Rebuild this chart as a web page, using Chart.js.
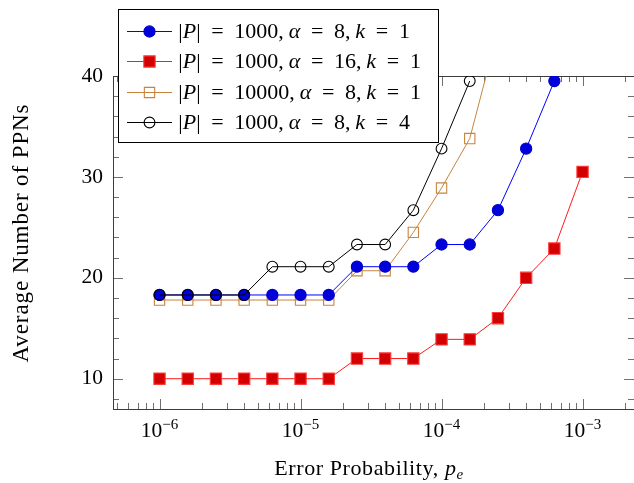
<!DOCTYPE html>
<html><head><meta charset="utf-8">
<script src="https://cdn.jsdelivr.net/npm/chart.js@4/dist/chart.umd.min.js"></script>
<style>html,body{margin:0;padding:0;background:#fff}#wrap{width:634px;height:483px;position:relative}</style>
</head><body><div id="wrap"><canvas id="c"></canvas></div>
<script>
// ---- data ----
const errorProb = [1e-6, 1.585e-6, 2.512e-6, 3.981e-6, 6.310e-6, 1e-5, 1.585e-5, 2.512e-5,
                   3.981e-5, 6.310e-5, 1e-4, 1.585e-4, 2.512e-4, 3.981e-4, 6.310e-4, 1e-3];
const ppnP1000a8k1  = [18.3, 18.3, 18.3, 18.3, 18.3, 18.3, 18.3, 21.1, 21.1, 21.1, 23.3, 23.3, 26.7, 32.8, 39.5];
const ppnP1000a16k1 = [10, 10, 10, 10, 10, 10, 10, 12, 12, 12, 13.9, 13.9, 16, 20, 22.9, 30.5];
const ppnP10000a8k1 = [17.8, 17.8, 17.8, 17.8, 17.8, 17.8, 17.8, 20.7, 20.7, 24.5, 28.9, 33.8, 44.5];
const ppnP1000a8k4  = [18.3, 18.3, 18.3, 18.3, 21.1, 21.1, 21.1, 23.3, 23.3, 26.7, 32.8, 39.5];
const poolSizes = [1000, 1000, 10000, 1000];
const alphas    = [8, 16, 8, 8];
const ks        = [1, 1, 1, 4];
const xTickExponents = [-6, -5, -4, -3];
const yTickValues = [10, 20, 30, 40];
const xAxisTitle = 'Error Probability, ';
const yAxisTitle = 'Average Number of PPNs';

const SERIF = "'Liberation Serif','Times New Roman',serif";
const fnt = (s, it) => (it ? 'italic ' : '') + s + 'px ' + SERIF;
const FS = 21.5, FSS = 15, FL = 22;

function pts(ys){ return ys.map((y,i)=>({x: errorProb[i], y})); }

function drawParts(ctx, parts, x, y, align){
  let w = 0;
  for (const p of parts){ ctx.font = fnt(p.s||FS, p.i); p.w = p.t ? ctx.measureText(p.t).width : 0; w += (p.g||0) + p.w; }
  let cx = align === 'center' ? x - w/2 : (align === 'right' ? x - w : x);
  for (const p of parts){ cx += p.g||0; if (p.t){ ctx.font = fnt(p.s||FS, p.i); ctx.fillText(p.t, cx, y + (p.dy||0)); } cx += p.w; }
  return w;
}
const TH = 10.7, TN = 4.8;
function legendParts(i){
  return [
    {t:'|',s:FL},{t:'P',i:true,s:FL},{t:'|',s:FL},{t:'=',g:TH,s:FL},{t:String(poolSizes[i]),g:TH,s:FL},{t:',',s:FL},
    {t:'α',i:true,g:TN,s:FL},{t:'=',g:TH,s:FL},{t:String(alphas[i]),g:TH,s:FL},{t:',',s:FL},
    {t:'k',i:true,g:TN,s:FL},{t:'=',g:TH,s:FL},{t:String(ks[i]),g:TH,s:FL}
  ];
}

const datasets = [
  {label:`|P| = ${poolSizes[0]}, α = ${alphas[0]}, k = ${ks[0]}`, data: pts(ppnP1000a8k1),
   borderColor:'#0000ff', pointBackgroundColor:'#0000dd', pointBorderColor:'#0000c8',
   pointStyle:'circle', pointRadius:5.6, order:1},
  {label:`|P| = ${poolSizes[1]}, α = ${alphas[1]}, k = ${ks[1]}`, data: pts(ppnP1000a16k1),
   borderColor:'#ff1a1a', pointBackgroundColor:'#d20000', pointBorderColor:'#ff3a3a',
   pointStyle:'rect', pointRadius:8, order:2},
  {label:`|P| = ${poolSizes[2]}, α = ${alphas[2]}, k = ${ks[2]}`, data: pts(ppnP10000a8k1),
   borderColor:'#c8843f', pointBackgroundColor:'rgba(0,0,0,0)', pointBorderColor:'#c8843f',
   pointStyle:'rect', pointRadius:7.3, order:3},
  {label:`|P| = ${poolSizes[3]}, α = ${alphas[3]}, k = ${ks[3]}`, data: pts(ppnP1000a8k4),
   borderColor:'#000000', pointBackgroundColor:'rgba(0,0,0,0)', pointBorderColor:'#000000',
   pointStyle:'circle', pointRadius:5.4, order:0}
];
datasets.forEach(d => { d.borderWidth = 1; d.pointBorderWidth = 1.1; d.tension = 0; d.fill = false;
  d.clip = {left: 10, right: 10, top: 0, bottom: 10}; d.pointHoverRadius = d.pointRadius; });

const decor = {
  id: 'decor',
  beforeDatasetsDraw(chart){
    const {ctx, chartArea:a, scales:{x, y}} = chart;
    ctx.save();
    ctx.strokeStyle = '#707070'; ctx.lineWidth = 1;
    ctx.beginPath();
    for (let k = -7; k <= -2; k++){
      for (let m = 1; m <= 9; m++){
        const v = m * Math.pow(10, k);
        if (v < x.min || v > x.max) continue;
        const px = Math.round(x.getPixelForValue(v)) + 0.5;
        const len = m === 1 ? 10 : 6;
        ctx.moveTo(px, a.bottom); ctx.lineTo(px, a.bottom - len);
        ctx.moveTo(px, a.top); ctx.lineTo(px, a.top + len);
      }
    }
    for (let v = 8; v <= 40; v += 2){
      const py = Math.round(y.getPixelForValue(v)) + 0.5;
      const len = v % 10 === 0 ? 10 : 6;
      ctx.moveTo(a.left, py); ctx.lineTo(a.left + len, py);
      ctx.moveTo(a.right, py); ctx.lineTo(a.right - len, py);
    }
    ctx.stroke();
    ctx.strokeStyle = '#3c3c3c';
    ctx.strokeRect(Math.round(a.left) + 0.5, Math.round(a.top) + 0.5, Math.round(a.right - a.left), Math.round(a.bottom - a.top));
    ctx.restore();
  },
  afterDraw(chart){
    const {ctx, chartArea:a, scales:{x}} = chart;
    ctx.save();
    ctx.fillStyle = '#000'; ctx.textAlign = 'left'; ctx.textBaseline = 'alphabetic';
    // x tick labels
    for (const e of xTickExponents){
      const px = x.getPixelForValue(Math.pow(10, e));
      drawParts(ctx, [{t:'10'}, {t:'\u2212' + Math.abs(e), s:FSS, dy:-8.5}], px, 437, 'center');
    }
    // x title
    ctx.letterSpacing = '0.6px';
    drawParts(ctx, [{t:xAxisTitle, s:22}, {t:'p', i:true, s:22}, {t:'e', i:true, s:FSS, dy:3.5}], 369, 475, 'center');
    // y title
    ctx.letterSpacing = '0.9px';
    ctx.save(); ctx.translate(28, 233); ctx.rotate(-Math.PI/2);
    drawParts(ctx, [{t:yAxisTitle, s:23}], 0, 0, 'center');
    ctx.restore();
    ctx.letterSpacing = '0px';
    // legend
    const lx = 118.5, ly = 9.5, lw = 320, lh = 133;
    ctx.fillStyle = '#fff'; ctx.fillRect(lx, ly, lw, lh);
    ctx.strokeStyle = '#000'; ctx.lineWidth = 1; ctx.strokeRect(lx, ly, lw, lh);
    chart.data.datasets.forEach((d, i) => {
      const cy = 31 + i * 30.3;
      ctx.strokeStyle = d.borderColor; ctx.lineWidth = 1;
      ctx.beginPath(); ctx.moveTo(127, Math.round(cy) + 0.5); ctx.lineTo(172, Math.round(cy) + 0.5); ctx.stroke();
      ctx.fillStyle = d.pointBackgroundColor; ctx.strokeStyle = d.pointBorderColor; ctx.lineWidth = d.pointBorderWidth;
      Chart.helpers.drawPoint(ctx, {pointStyle: d.pointStyle, radius: d.pointRadius, rotation: 0, borderWidth: d.pointBorderWidth}, 149.5, Math.round(cy) + 0.5);
      ctx.fillStyle = '#000';
      drawParts(ctx, legendParts(i), 178.3, cy + 7, 'left');
    });
    ctx.restore();
  }
};

new Chart(document.getElementById('c'), {
  type: 'line',
  data: { datasets },
  options: {
    responsive: true, maintainAspectRatio: false, animation: false, events: [],
    devicePixelRatio: 1,
    layout: { autoPadding: false, padding: { top: 76, left: 0, right: 0, bottom: 0 } },
    plugins: { legend: { display: false }, tooltip: { enabled: false }, title: { display: false } },
    scales: {
      x: { type: 'logarithmic', min: 4.677e-7, max: 2.317e-3,
           ticks: { display: false }, grid: { display: false, drawTicks: false }, border: { display: false },
           afterFit: s => { s.height = 74; } },
      y: { type: 'linear', min: 7, max: 40,
           afterBuildTicks: s => { s.ticks = yTickValues.map(v => ({ value: v })); },
           ticks: { color: '#000', padding: 10, font: { family: SERIF, size: FS } },
           grid: { display: false, drawTicks: false }, border: { display: false },
           afterFit: s => { s.width = 113; } }
    }
  },
  plugins: [decor]
});
</script></body></html>
